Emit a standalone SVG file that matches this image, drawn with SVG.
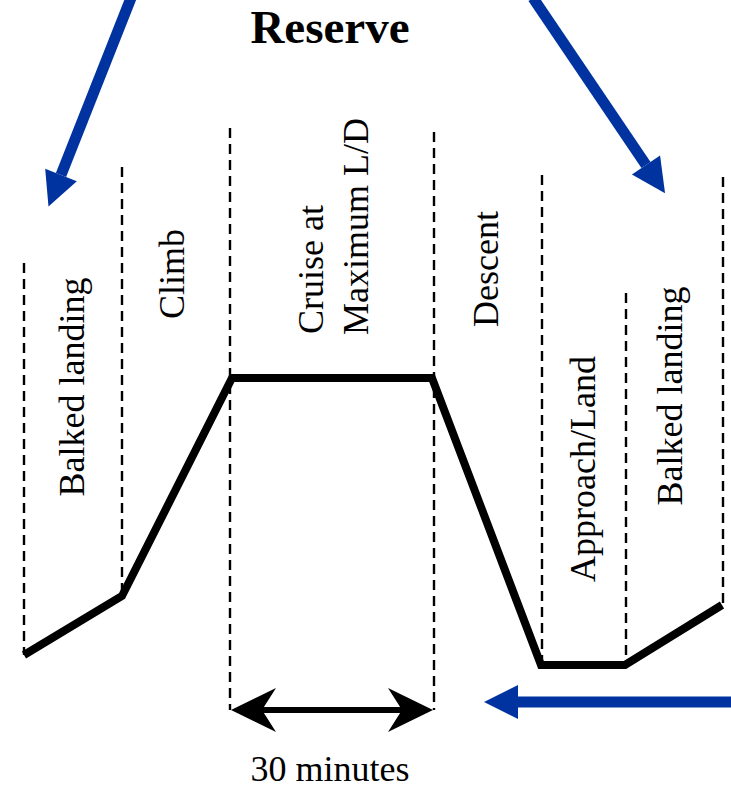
<svg xmlns="http://www.w3.org/2000/svg" width="731" height="790" viewBox="0 0 731 790">
<style>
.dash{stroke:#000;stroke-width:2.4;stroke-dasharray:10 6;fill:none}
.profile{stroke:#000;stroke-width:8;fill:none;stroke-linejoin:miter;stroke-miterlimit:10}
.blue{stroke:#0033a0;stroke-width:11;fill:none}
.lbl{font-family:"Liberation Serif","Times New Roman",serif;font-size:36px;fill:#000}
.title{font-family:"Liberation Serif","Times New Roman",serif;font-size:47px;font-weight:bold;fill:#000}
</style>
<defs>
<marker id="blueHead" markerUnits="userSpaceOnUse" markerWidth="40" markerHeight="40" refX="0" refY="0" orient="auto" overflow="visible">
<path d="M0,-17 L34,0 L0,17 Z" fill="#0033a0"/>
</marker>
<marker id="blackHead" markerUnits="userSpaceOnUse" markerWidth="50" markerHeight="50" refX="0" refY="0" orient="auto-start-reverse" overflow="visible">
<path d="M31,0 L-14,-22 L0,0 L-14,22 Z" fill="#000"/>
</marker>
</defs>
<g id="title"><text class="title" x="330" y="43" text-anchor="middle">Reserve</text></g>
<g id="dividers">
<line class="dash" x1="24" y1="263" x2="24" y2="655"/>
<line class="dash" x1="122" y1="167" x2="122" y2="596"/>
<line class="dash" x1="230" y1="128" x2="230" y2="710"/>
<line class="dash" x1="434" y1="132" x2="434" y2="710"/>
<line class="dash" x1="542" y1="175" x2="542" y2="665"/>
<line class="dash" x1="626" y1="293" x2="626" y2="665"/>
<line class="dash" x1="723" y1="177" x2="723" y2="605"/>
</g>
<g id="profile">
<polyline class="profile" points="24,655 122,596 232,378 432,378 541,665 625,665 722,605"/>
</g>
<g id="seg-balked-left"><text class="lbl" transform="translate(84,387) rotate(-90)" text-anchor="middle">Balked landing</text></g>
<g id="seg-climb"><text class="lbl" transform="translate(184,274) rotate(-90)" text-anchor="middle">Climb</text></g>
<g id="seg-cruise">
<text class="lbl" transform="translate(323,334) rotate(-90)">Cruise at</text>
<text class="lbl" transform="translate(368,335) rotate(-90)">Maximum L/D</text>
</g>
<g id="seg-descent"><text class="lbl" transform="translate(498,327) rotate(-90)">Descent</text></g>
<g id="seg-approach"><text class="lbl" transform="translate(595,469) rotate(-90)" text-anchor="middle">Approach/Land</text></g>
<g id="seg-balked-right"><text class="lbl" transform="translate(682,396) rotate(-90)" text-anchor="middle">Balked landing</text></g>
<g id="duration">
<text class="lbl" x="330" y="781" text-anchor="middle">30 minutes</text>
</g>
<g id="connectors">
<line class="blue" x1="131" y1="-2" x2="61" y2="175" marker-end="url(#blueHead)"/>
<line class="blue" x1="533" y1="-2" x2="646" y2="165" marker-end="url(#blueHead)"/>
<line class="blue" x1="735" y1="702" x2="518" y2="702" marker-end="url(#blueHead)"/>
<line x1="262" y1="710" x2="402" y2="710" stroke="#000" stroke-width="6" marker-start="url(#blackHead)" marker-end="url(#blackHead)"/>
</g>
</svg>
